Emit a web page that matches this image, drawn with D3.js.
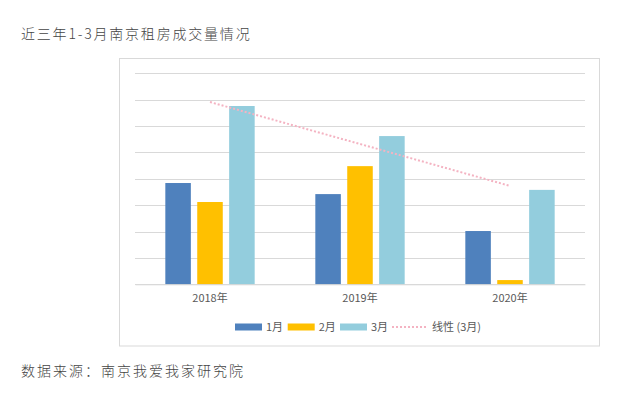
<!DOCTYPE html>
<html>
<head>
<meta charset="utf-8">
<script src="https://d3js.org/d3.v7.min.js"></script>
<style>
  body { margin: 0; background: #fff; }
  text { font-family: "Microsoft YaHei", "Noto Sans CJK SC", sans-serif; }
</style>
</head>
<body>
<div class="vis"></div>
<script>
  let width = 625
  let height = 393

  // data (unit = one gridline step, no axis labels shown)
  let years = ['2018年', '2019年', '2020年']
  let months = ['1月', '2月', '3月']
  let jan = [3.84, 3.42, 2.02]
  let feb = [3.12, 4.48, 0.16]
  let mar = [6.76, 5.62, 3.58]
  let colors = ['#4F81BD', '#FFC000', '#93CDDD']
  let trendColor = '#F4B3C2'

  let series = [jan, feb, mar]

  let svg = d3.select('.vis').append('svg')
    .attr('width', width).attr('height', height)

  svg.append('text')
    .attr('x', 21).attr('y', 39)
    .attr('font-size', 14).attr('fill', '#444')
    .attr('letter-spacing', 1.8)
    .attr('font-weight', 300)
    .text('近三年1-3月南京租房成交量情况')

  svg.append('text')
    .attr('x', 21).attr('y', 376)
    .attr('font-size', 14).attr('fill', '#444')
    .attr('letter-spacing', 2)
    .attr('font-weight', 300)
    .text('数据来源：南京我爱我家研究院')

  // chart frame
  svg.append('rect')
    .attr('x', 119.5).attr('y', 58.5)
    .attr('width', 480).attr('height', 287.5)
    .attr('fill', 'none').attr('stroke', '#D9D9D9')

  let margin = { left: 135, right: 585, top: 73.3, bottom: 284.3 }

  let x = d3.scaleBand()
    .domain(years)
    .range([margin.left, margin.right])

  let y = d3.scaleLinear()
    .domain([0, 8])
    .range([margin.bottom, margin.top])

  let xs = d3.scaleBand()
    .domain(months)
    .range([0, x.bandwidth()])
    .paddingInner(0.2)
    .paddingOuter(0.95)

  // gridlines
  svg.append('g')
    .selectAll('line')
    .data(y.ticks(8))
    .join('line')
      .attr('x1', margin.left).attr('x2', margin.right)
      .attr('y1', d => Math.round(y(d)) + 0.5)
      .attr('y2', d => Math.round(y(d)) + 0.5)
      .attr('stroke', '#D9D9D9')

  // bars
  series.forEach((vals, si) => {
    svg.append('g')
      .selectAll('rect')
      .data(vals)
      .join('rect')
        .attr('x', (d, i) => x(years[i]) + xs(months[si]))
        .attr('width', xs.bandwidth())
        .attr('y', d => y(d))
        .attr('height', d => y(0) - y(d))
        .attr('fill', colors[si])
  })

  // linear trend of 3月
  let n = mar.length
  let mx = d3.mean(d3.range(n))
  let my = d3.mean(mar)
  let slope = d3.sum(mar, (d, i) => (i - mx) * (d - my)) / d3.sum(d3.range(n), i => (i - mx) ** 2)
  let trend = [0, n - 1].map(i => [x(years[i]) + x.bandwidth() / 2, y(my + slope * (i - mx))])

  svg.append('path')
    .attr('d', d3.line()(trend))
    .attr('stroke', trendColor)
    .attr('stroke-width', 2)
    .attr('stroke-dasharray', '2,2')
    .attr('fill', 'none')

  // x axis labels
  svg.append('g')
    .attr('transform', `translate(0,${margin.bottom})`)
    .call(d3.axisBottom(x).tickSize(0).tickPadding(10))
    .call(g => g.select('.domain').attr('stroke', '#D9D9D9'))
    .call(g => g.selectAll('text')
      .attr('font-size', 11)
      .attr('fill', '#595959')
      .attr('font-family', '"Microsoft YaHei", "Noto Sans CJK SC", sans-serif'))

  // legend
  let legend = svg.append('g')
  let lx = [235, 287.7, 340]
  months.forEach((m, i) => {
    legend.append('rect')
      .attr('x', lx[i]).attr('y', 323.5)
      .attr('width', 27).attr('height', 7)
      .attr('fill', colors[i])
    legend.append('text')
      .attr('x', lx[i] + 31).attr('y', 331)
      .attr('font-size', 11).attr('fill', '#595959')
      .text(m)
  })
  legend.append('line')
    .attr('x1', 392).attr('x2', 427)
    .attr('y1', 327).attr('y2', 327)
    .attr('stroke', trendColor).attr('stroke-width', 2)
    .attr('stroke-dasharray', '2,2')
  legend.append('text')
    .attr('x', 432).attr('y', 331)
    .attr('font-size', 11).attr('fill', '#595959')
    .text('线性 (3月)')
</script>
</body>
</html>
